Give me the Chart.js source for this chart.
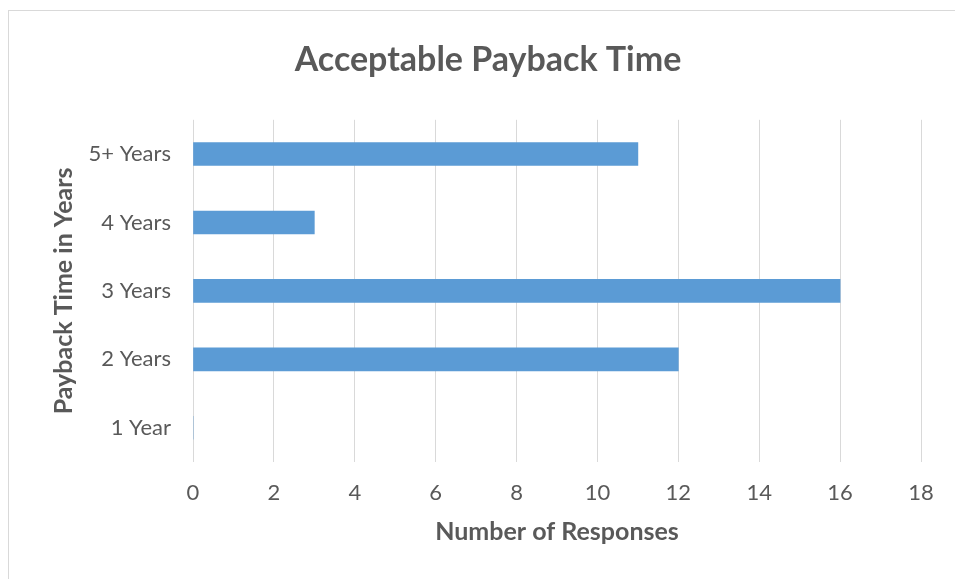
<!DOCTYPE html>
<html>
<head>
<meta charset="utf-8">
<script src="https://cdn.jsdelivr.net/npm/chart.js@4"></script>
<style>
    html, body { margin: 0; padding: 0; background: #fff; overflow: hidden; }
    #wrap { position: relative; width: 955px; height: 579px; overflow: hidden; }
    #frame { position: absolute; left: 8px; top: 10px; width: 980px; height: 600px; border: 1px solid #d9d9d9; box-sizing: border-box; }
    #box { position: absolute; left: 0; top: 0; width: 976px; height: 579px; }
</style>
</head>
<body>
<div id="wrap">
    <div id="frame"></div>
    <div id="box"><canvas id="paybackChart"></canvas></div>
</div>
<script>
// data
const categories = ['1 Year', '2 Years', '3 Years', '4 Years', '5+ Years'];
const responses = [0, 12, 16, 3, 11];
const xTicks = [0, 2, 4, 6, 8, 10, 12, 14, 16, 18];

const chartTitle = 'Acceptable Payback Time';
const xTitle = 'Number of Responses';
const yTitle = 'Payback Time in Years';

const textColor = '#595959';
const gridColor = '#d9d9d9';
const barColor = '#5b9bd5';
const fontFamily = 'Lato, "Open Sans", sans-serif';

renderPaybackChart();

function renderPaybackChart() {
    const ctx = document.getElementById('paybackChart').getContext('2d');
    new Chart(ctx, {
        type: 'bar',
        data: {
            labels: categories,
            datasets: [{
                data: responses,
                backgroundColor: barColor,
                barThickness: 23
            }]
        },
        options: {
            indexAxis: 'y',
            responsive: true,
            maintainAspectRatio: false,
            animation: false,
            // equal side padding keeps the title centred where the original has it
            layout: { padding: { left: 55, right: 55, top: 0, bottom: 0 } },
            plugins: {
                legend: { display: false },
                tooltip: { enabled: false },
                title: {
                    display: true,
                    text: chartTitle,
                    color: textColor,
                    font: { family: fontFamily, size: 34, weight: 'bold' },
                    padding: { top: 40, bottom: 39 }
                }
            },
            scales: {
                x: {
                    min: 0,
                    max: xTicks[xTicks.length - 1],
                    afterBuildTicks: s => { s.ticks = xTicks.map(v => ({ value: v })); },
                    afterFit: s => { s.height = 117; },
                    grid: { color: gridColor, lineWidth: 1, drawTicks: false },
                    border: { display: false },
                    ticks: {
                        color: textColor,
                        padding: 18,
                        font: { family: fontFamily, size: 22 }
                    },
                    title: {
                        display: true,
                        text: xTitle,
                        color: textColor,
                        font: { family: fontFamily, size: 25, weight: 'bold' },
                        padding: { top: 0, bottom: 32 }
                    }
                },
                y: {
                    reverse: true,
                    afterFit: s => { s.width = 138; },
                    grid: { display: false, drawTicks: false },
                    border: { display: false },
                    ticks: {
                        color: textColor,
                        padding: 22,
                        font: { family: fontFamily, size: 22 }
                    },
                    title: {
                        display: true,
                        text: yTitle,
                        color: textColor,
                        font: { family: fontFamily, size: 25, weight: 'bold' },
                        padding: { top: -6, bottom: 0 }
                    }
                }
            }
        }
    });
}
</script>
</body>
</html>
